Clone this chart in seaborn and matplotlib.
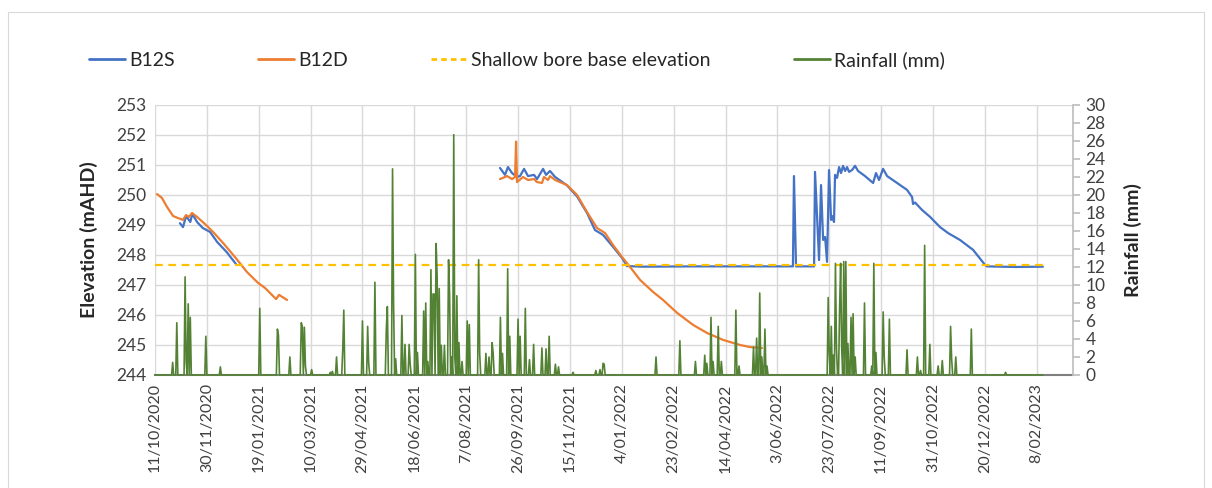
import numpy as np
import pandas as pd
import matplotlib
matplotlib.use("Agg")
import matplotlib.pyplot as plt
from matplotlib.lines import Line2D
from matplotlib.patches import Rectangle
import seaborn as sns

# all x values are days since 11/10/2020
start = pd.Timestamp("2020-10-11")

# B12S (shallow bore) - two logging periods
b12s_days_1 = [24, 27, 30, 34, 36, 40.5, 46, 53, 60, 69, 78]
b12s_elev_1 = [249.06, 248.93, 249.3, 249.1, 249.37, 249.1, 248.9, 248.77, 248.43, 248.1, 247.7]
b12s_days_2 = [332.6, 337.4, 340.3, 344.2, 349, 351.9, 355.8, 359.6, 365.4, 368.3, 374.1, 377, 380.8,
               385.7, 397.2, 406.9, 416.5, 424.2, 431.9, 441.6, 450.3, 455.1, 470, 520, 580, 615,
               616, 618, 635.4, 636.3, 640.2, 642.1, 644.1, 646, 647.9, 649.8, 651.8, 652.7, 654.6,
               655.6, 657.5, 659.5, 661.4, 663.3, 665.3, 667.2, 669.1, 672, 674.9, 677.8, 684.5,
               692.3, 695.1, 698, 701.9, 705.8, 715.4, 725, 729.9, 730.8, 732.7, 739.5, 747.2,
               756.8, 764.6, 776.1, 788.7, 800.2, 802, 830, 856]
b12s_elev_2 = [250.9, 250.67, 250.93, 250.73, 250.6, 250.63, 250.87, 250.63, 250.67, 250.53, 250.87,
               250.67, 250.8, 250.6, 250.32, 249.95, 249.4, 248.83, 248.67, 248.27, 247.9, 247.63,
               247.61, 247.62, 247.62, 247.62, 250.63, 247.62, 247.62, 250.77, 247.83, 250.33,
               248.5, 248.6, 247.77, 250.83, 249.17, 249.3, 249.1, 250.67, 250.57, 250.93, 250.73,
               250.97, 250.8, 250.93, 250.77, 250.83, 250.97, 250.8, 250.63, 250.4, 250.73, 250.5,
               250.87, 250.63, 250.4, 250.17, 249.93, 249.7, 249.75, 249.5, 249.27, 248.93,
               248.73, 248.5, 248.17, 247.67, 247.62, 247.6, 247.61]

# B12D (deep bore)
b12d_days_1 = [2, 6.7, 11.6, 17.4, 22.2, 27, 29.9, 32.8, 35.7, 40.5, 48.2, 55.9, 65.6, 77.1, 88.7,
               99.3, 106.1, 116.7, 119.6, 127.3]
b12d_elev_1 = [250.03, 249.9, 249.6, 249.3, 249.23, 249.17, 249.33, 249.27, 249.4, 249.27, 249.03,
               248.77, 248.4, 247.93, 247.43, 247.07, 246.9, 246.53, 246.67, 246.5]
b12d_days_2 = [332.6, 339.4, 344.2, 347.1, 348.1, 349, 354.8, 359.6, 365.4, 368.3, 373.1, 375,
               378.9, 380.8, 385.7, 397.2, 406.9, 416.5, 426.1, 433.9, 441.6, 450.3, 458, 467.6,
               480.1, 489.8, 503.3, 518.7, 532.2, 547.6, 564, 573.7, 585.2]
b12d_elev_2 = [250.53, 250.63, 250.53, 250.6, 251.78, 250.43, 250.6, 250.5, 250.53, 250.43, 250.4,
               250.6, 250.5, 250.63, 250.5, 250.33, 250.0, 249.43, 248.9, 248.73, 248.33, 247.93,
               247.6, 247.17, 246.77, 246.5, 246.07, 245.67, 245.4, 245.17, 245.0, 244.93, 244.9]

base_elev = 247.68
base_days = [0, 856]

# daily rainfall (mm), days not listed are 0
rain_last_day = 856
rain_days = [17, 21, 29, 30, 32, 34, 49, 63, 101, 118, 119, 130, 141, 142, 144, 145, 151, 169, 171,
             175, 181, 182, 200, 205, 206, 212, 223, 224, 229, 230, 232, 238, 241, 245, 246, 251,
             253, 259, 261, 263, 266, 268, 269, 271, 272, 274, 276, 279, 283, 284, 286, 288, 289,
             291, 293, 296, 301, 303, 312, 313, 319, 322, 325, 326, 333, 335, 340, 342, 350, 352,
             357, 361, 365, 373, 377, 380, 386, 389, 403, 425, 429, 432, 433, 483, 506, 521, 530,
             532, 536, 538, 543, 546, 560, 563, 577, 580, 583, 585, 588, 590, 649, 650, 652, 654,
             656, 657, 660, 661, 662, 664, 666, 668, 671, 673, 675, 684, 691, 693, 695, 702, 703,
             708, 725, 735, 738, 742, 747, 755, 759, 767, 768, 772, 787, 820]
rain_mm = [1.4, 5.8, 10.9, 1.5, 7.9, 6.4, 4.3, 0.9, 7.4, 5.1, 4.4, 2.0, 5.8, 5.4, 5.3, 1.0, 0.6, 0.3,
           0.4, 2.0, 2.8, 7.2, 6.0, 5.4, 1.3, 10.3, 5.1, 7.6, 22.9, 7.8, 1.8, 6.6, 3.4, 3.4, 1.2,
           13.4, 2.5, 7.1, 8.0, 1.5, 11.7, 9.0, 9.0, 14.6, 10.9, 9.6, 3.3, 3.3, 12.8, 9.0, 2.0, 26.7,
           2.0, 8.8, 3.6, 1.5, 6.0, 5.6, 12.8, 2.4, 2.4, 2.0, 3.6, 2.4, 6.4, 2.4, 11.8, 4.3, 6.2,
           4.3, 7.4, 1.7, 3.4, 3.0, 2.9, 4.3, 1.2, 0.9, 0.3, 0.5, 0.6, 1.3, 1.2, 2.0, 3.8, 1.5, 2.2,
           1.3, 6.4, 1.5, 5.4, 1.5, 7.2, 1.0, 3.1, 4.1, 9.1, 2.0, 5.1, 1.0, 8.6, 2.5, 5.4, 2.2, 12.4,
           3.0, 7.4, 12.4, 3.0, 12.6, 12.6, 3.5, 6.4, 6.8, 2.0, 8.0, 1.0, 12.4, 2.5, 7.0, 2.0, 6.2,
           2.8, 2.0, 0.5, 14.4, 3.4, 1.0, 1.6, 5.4, 1.8, 2.0, 5.1, 0.3]

tick_labels = ["11/10/2020", "30/11/2020", "19/01/2021", "10/03/2021", "29/04/2021", "18/06/2021",
               "7/08/2021", "26/09/2021", "15/11/2021", "4/01/2022", "23/02/2022", "14/04/2022",
               "3/06/2022", "23/07/2022", "11/09/2022", "31/10/2022", "20/12/2022", "8/02/2023"]


def to_frame(day_lists, val_lists):
    parts = []
    for i, (d, v) in enumerate(zip(day_lists, val_lists)):
        parts.append(pd.DataFrame({"date": start + pd.to_timedelta(d, unit="D"),
                                   "value": v, "seg": i}))
    return pd.concat(parts, ignore_index=True)


b12s = to_frame([b12s_days_1, b12s_days_2], [b12s_elev_1, b12s_elev_2])
b12d = to_frame([b12d_days_1, b12d_days_2], [b12d_elev_1, b12d_elev_2])
base = to_frame([base_days], [[base_elev, base_elev]])

rain = pd.Series(0.0, index=range(rain_last_day + 1))
rain.loc[rain_days] = rain_mm
rain_df = pd.DataFrame({"date": start + pd.to_timedelta(rain.index, unit="D"), "mm": rain.values})

BLUE = "#4472C4"
ORANGE = "#ED7D31"
YELLOW = "#FFC000"
GREEN = "#548235"

sns.set_theme(style="white")
plt.rcParams["font.family"] = ["Lato", "DejaVu Sans"]

fig = plt.figure(figsize=(12.12, 4.88), dpi=100)
ax = fig.add_axes([0.1279, 0.2316, 0.7574, 0.5533])
ax2 = ax.twinx()

sns.lineplot(data=b12s, x="date", y="value", units="seg", estimator=None, color=BLUE, lw=1.6, ax=ax)
sns.lineplot(data=b12d, x="date", y="value", units="seg", estimator=None, color=ORANGE, lw=1.6, ax=ax)
sns.lineplot(data=base, x="date", y="value", units="seg", estimator=None, color=YELLOW, lw=1.6,
             dashes=False, ax=ax).lines[-1].set_dashes((3.5, 2.5))
sns.lineplot(data=rain_df, x="date", y="mm", color=GREEN, lw=1.2, ax=ax2, clip_on=False)

ax.set_xlim(start, start + pd.Timedelta(days=885))
ax.set_ylim(244, 253)
ax.set_yticks(range(244, 254))
ax2.set_ylim(0, 30)
ax2.set_yticks(range(0, 31, 2))

tick_pos = pd.to_datetime(tick_labels, dayfirst=True)
ax.set_xticks(tick_pos)
ax.set_xticklabels(tick_labels, rotation=90, fontsize=11.5, color="#404040")

ax.grid(True, color="#d9d9d9", lw=1)
ax2.grid(False)
for s in ["left", "top", "right"]:
    ax.spines[s].set_visible(False)
    ax2.spines[s].set_visible(False)
ax.spines["bottom"].set_color("#7f7f7f")
ax.spines["bottom"].set_linewidth(1.5)
ax2.spines["bottom"].set_visible(False)
ax2.spines["right"].set_visible(True)
ax2.spines["right"].set_color("#bfbfbf")

ax.tick_params(axis="x", length=0, pad=6)
ax.tick_params(axis="y", length=0, labelsize=12.5, labelcolor="#404040", pad=6)
ax2.tick_params(axis="y", length=5, color="#bfbfbf", labelsize=12.5, labelcolor="#404040", pad=4,
                direction="out", right=True)

ax.set_xlabel("")
ax.set_ylabel("Elevation (mAHD)", fontsize=14, fontweight="bold", color="#262626")
ax.yaxis.set_label_coords(-0.062, 0.5)
ax2.set_ylabel("Rainfall (mm)", fontsize=14, fontweight="bold", color="#262626")
ax2.yaxis.set_label_coords(1.055, 0.5)

handles = [Line2D([], [], color=BLUE, lw=2),
           Line2D([], [], color=ORANGE, lw=2),
           Line2D([], [], color=YELLOW, lw=2, dashes=(2, 1.5)),
           Line2D([], [], color=GREEN, lw=2)]
labels = ["B12S", "B12D", "Shallow bore base elevation", "Rainfall (mm)"]
fig.legend(handles, labels, loc="center left", bbox_to_anchor=(0.0734, 0.877), ncol=4,
           frameon=False, fontsize=14, handlelength=1.85, handletextpad=0.2,
           columnspacing=4.3, borderaxespad=0, borderpad=0, labelcolor="#262626")

fig.patches.append(Rectangle((0.0066, -0.02), 0.9864, 0.9954, transform=fig.transFigure,
                             fill=False, edgecolor="#d9d9d9", lw=0.8))

fig.savefig("out.png", dpi=100)
